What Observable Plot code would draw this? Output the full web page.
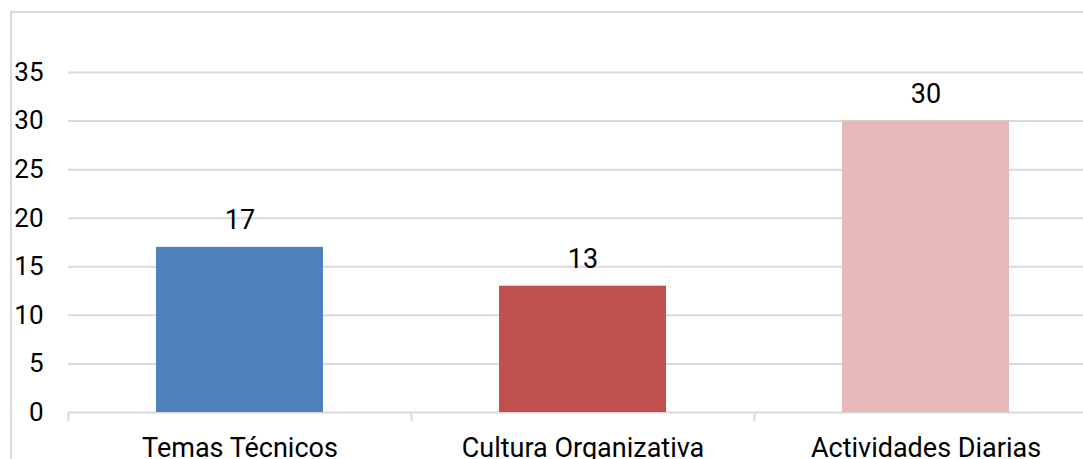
<!DOCTYPE html>
<html>
<head>
<meta charset="utf-8">
<script src="https://cdn.jsdelivr.net/npm/d3@7"></script>
<script src="https://cdn.jsdelivr.net/npm/@observablehq/plot@0.6"></script>
<style>
  html, body { margin: 0; padding: 0; background: #fff; }
  #wrap { position: relative; width: 1083px; height: 459px; overflow: hidden; background: #fff; }
  #border { position: absolute; left: 10px; top: 11px; width: 2000px; height: 2000px; border: 2px solid #d9d9d9; box-sizing: border-box; }
  #chart { position: absolute; left: 0; top: 0; }
</style>
</head>
<body>
<div id="wrap"><div id="border"></div><div id="chart"></div></div>
<script>
const categories = ["Temas Técnicos", "Cultura Organizativa", "Actividades Diarias"];
const values = [17, 13, 30];
const colors = ["#4f81bd", "#c0504d", "#e6b8b7"];
const yTicks = [0, 5, 10, 15, 20, 25, 30, 35];

const data = categories.map((c, i) => ({category: c, value: values[i], color: colors[i]}));

const chart = Plot.plot({
  width: 1083,
  height: 459,
  marginLeft: 68,
  marginRight: -14,
  marginTop: 72,
  marginBottom: 47,
  style: {fontFamily: "Roboto, sans-serif", fontSize: "26px", color: "#000", background: "transparent", overflow: "visible"},
  x: {domain: categories, paddingInner: 0.513, paddingOuter: 0.2565, label: null},
  y: {domain: [0, 35], label: null},
  marks: [
    Plot.ruleY(yTicks, {stroke: "#d9d9d9", strokeWidth: 2}),
    Plot.barY(data, {x: "category", y: "value", fill: "color"}),
    Plot.ruleX(categories, {x: d => d, dx: -171.5, y1: 0, y2: -0.95, stroke: "#d9d9d9", strokeWidth: 2}),
    Plot.text(data, {x: "category", y: "value", text: d => String(d.value), dy: -18, lineAnchor: "bottom", fontSize: 27, fill: "#000"}),
    Plot.axisY({ticks: yTicks, tickSize: 0, tickPadding: 25, fontSize: 26, fill: "#000", label: null}),
    Plot.axisX({tickSize: 0, tickPadding: 25, fontSize: 27, fill: "#000", label: null})
  ]
});
document.getElementById("chart").appendChild(chart);
</script>
</body>
</html>
